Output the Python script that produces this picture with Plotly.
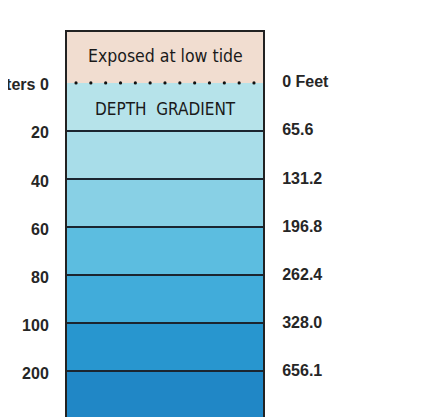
import numpy as np
import plotly.graph_objects as go

# ---- data ----
meter_labels = ["Meters 0", "20", "40", "60", "80", "100", "200"]
feet_labels = ["0 Feet", "65.6", "131.2", "196.8", "262.4", "328.0", "656.1"]
band_names = ["Exposed at low tide", "0-20 m", "20-40 m", "40-60 m",
              "60-80 m", "80-100 m", "100-200 m", "200+ m"]
band_top = [-1.06, 0, 1, 2, 3, 4, 5, 6]      # band edges on the depth-step axis
band_bottom = [0, 1, 2, 3, 4, 5, 6, 7]
band_colors = ["#f1ddd0", "#b6e3ea", "#a8dde9", "#88d0e5",
               "#5cbde0", "#41acda", "#2896cf", "#2087c6"]
tick_pos = [0, 1, 2, 3, 4, 5, 6]
separators = [1, 2, 3, 4, 5, 6]
n_dots = 13

FONT = "Liberation Sans, Arial, sans-serif"
COND = "DejaVu Sans Condensed, DejaVu Sans, sans-serif"

fig = go.Figure()

fig.add_trace(go.Bar(
    x=[0] * len(band_names),
    y=[b - t for t, b in zip(band_top, band_bottom)],
    base=band_top,
    width=1,
    marker=dict(color=band_colors, line=dict(width=0)),
    name="bands",
    hoverinfo="skip",
    showlegend=False,
))

# separators between depth bands
sx, sy = [], []
for s in separators:
    sx += [-0.5, 0.5, None]
    sy += [s, s, None]
fig.add_trace(go.Scatter(x=sx, y=sy, mode="lines",
                         line=dict(color="#1b2530", width=2),
                         hoverinfo="skip", showlegend=False))

# dotted low-tide line at 0
dx = np.linspace(-0.454, 0.454, n_dots)
fig.add_trace(go.Scatter(x=dx, y=[0] * n_dots, mode="markers",
                         marker=dict(color="#111111", size=3.2, symbol="circle"),
                         hoverinfo="skip", showlegend=False))

# invisible trace for the right axis
fig.add_trace(go.Scatter(x=[0], y=[0], yaxis="y2", mode="markers",
                         marker=dict(opacity=0), hoverinfo="skip", showlegend=False))

tick_font = dict(family=FONT, size=16, color="#262626", weight="bold")
yr = [6.96, -1.06]
fig.update_layout(
    width=414, height=409,
    margin=dict(l=59, r=159, t=24, b=0, autoexpand=False),
    paper_bgcolor="white", plot_bgcolor="white",
    barmode="overlay",
    xaxis=dict(range=[-0.5, 0.5], showgrid=False, zeroline=False,
               showticklabels=False, showline=True, side="top",
               linecolor="#222222", linewidth=2, automargin=False),
    yaxis=dict(range=yr, showgrid=False, zeroline=False,
               tickvals=tick_pos, ticktext=meter_labels,
               showline=True, linecolor="#222222", linewidth=2,
               ticks="", ticklabelstandoff=13, ticklabelshift=-2,
               tickfont=tick_font, automargin=False),
    yaxis2=dict(range=yr, overlaying="y", side="right", showgrid=False,
                zeroline=False, tickvals=tick_pos, ticktext=feet_labels,
                showline=True, linecolor="#222222", linewidth=2,
                ticks="", ticklabelstandoff=14, ticklabelshift=1,
                tickfont=tick_font, automargin=False),
    annotations=[
        dict(x=0, y=-0.55, xref="x", yref="y", text="Exposed at low tide",
             showarrow=False, font=dict(family=COND, size=17.5, color="#1a1a1a")),
        dict(x=0, y=0.55, xref="x", yref="y", text="DEPTH&nbsp;&nbsp;GRADIENT",
             showarrow=False, font=dict(family=COND, size=17, color="#1a1a1a")),
    ],
)

fig.write_html("out.html")
